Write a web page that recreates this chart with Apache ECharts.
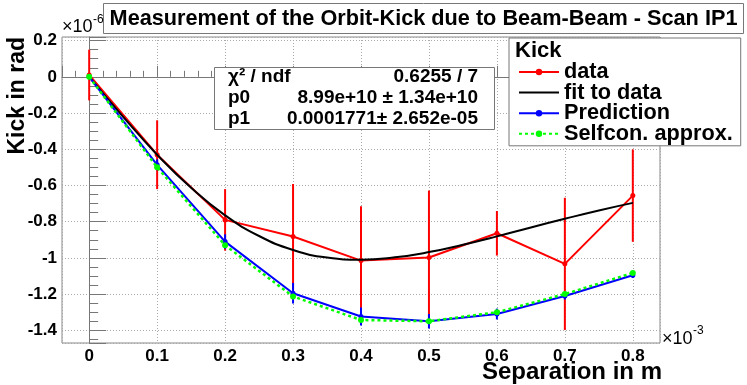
<!DOCTYPE html>
<html>
<head>
<meta charset="utf-8">
<script src="https://cdn.jsdelivr.net/npm/echarts@6/dist/echarts.min.js"></script>
<style>
  html, body { margin: 0; padding: 0; background: #fff; }
  #chart { width: 747px; height: 385px; }
</style>
</head>
<body>
<div id="chart"></div>
<script>
  // separation in 1e-3 m, kick in 1e-6 rad
  var separation = [0, 0.1, 0.2, 0.3, 0.4, 0.5, 0.6, 0.7, 0.8];
  var kickData = [0.01, -0.43, -0.79, -0.882, -1.015, -0.998, -0.864, -1.033, -0.656];
  var kickErr = [0.14, 0.19, 0.17, 0.29, 0.30, 0.37, 0.123, 0.365, 0.255];
  var predKick = [0, -0.486, -0.91, -1.195, -1.324, -1.35, -1.31, -1.21, -1.096];
  var predErr = [0.01, 0.03, 0.04, 0.057, 0.05, 0.04, 0.03, 0.02, 0.015];
  var selfconKick = [0, -0.50, -0.93, -1.213, -1.343, -1.35, -1.30, -1.20, -1.083];
  var fitX = [0, 0.05, 0.1, 0.15, 0.2, 0.25, 0.3, 0.35, 0.4, 0.45, 0.5, 0.55, 0.6, 0.65, 0.7, 0.75, 0.8];
  var fitKick = [0, -0.221, -0.43, -0.613, -0.765, -0.879, -0.956, -0.998, -1.01, -0.997, -0.968, -0.927, -0.881, -0.832, -0.784, -0.738, -0.696];

  var FONT = '"Liberation Sans", Arial, sans-serif';

  function pairs(xs, ys) {
    return xs.map(function (x, i) { return [x, ys[i]]; });
  }
  function triples(xs, ys, es) {
    return xs.map(function (x, i) { return [x, ys[i], es[i]]; });
  }
  function errBar(color) {
    return function (params, api) {
      var x = api.value(0), y = api.value(1), e = api.value(2);
      var p1 = api.coord([x, y + e]);
      var p2 = api.coord([x, y - e]);
      return {
        type: 'line',
        shape: { x1: p1[0], y1: p1[1], x2: p2[0], y2: p2[1] },
        style: { stroke: color, lineWidth: 2 }
      };
    };
  }
  function txt(x, y, s, font, align, extra) {
    var el = {
      type: 'text', x: x, y: y, z: 100,
      style: { text: s, font: font, fill: '#000', align: align, textAlign: align, verticalAlign: 'middle', textVerticalAlign: 'middle' }
    };
    if (extra) Object.assign(el, extra);
    return el;
  }

  var myChart = echarts.init(document.getElementById('chart'));
  var option = {
    backgroundColor: '#fff',
    animation: false,
    grid: {
      left: 62, right: 87, top: 37, bottom: 42,
      show: true, borderColor: '#888', borderWidth: 1, backgroundColor: '#fff'
    },
    legend: {
      orient: 'vertical',
      left: 509, top: 38,
      padding: [23, 8, 1, 9],
      itemWidth: 40, itemHeight: 8, itemGap: -1.4,
      backgroundColor: '#fff', borderColor: '#777', borderWidth: 1, borderRadius: 0,
      textStyle: { fontFamily: FONT, fontWeight: 'bold', fontSize: 21.7, lineHeight: 20, color: '#000' },
      data: [
        'data',
        { name: 'fit to data', itemStyle: { opacity: 0 } },
        'Prediction',
        'Selfcon. approx.'
      ]
    },
    xAxis: {
      type: 'value', min: -0.04, max: 0.84, splitNumber: 9,
      axisLine: { lineStyle: { color: '#777', width: 1 } },
      axisTick: { inside: true, length: 11, lineStyle: { color: '#777' } },
      minorTick: { show: true, splitNumber: 5, length: 6, lineStyle: { color: '#777' } },
      splitLine: { show: true, lineStyle: { color: '#aaa', type: [1, 2] } },
      axisLabel: {
        showMinLabel: false, showMaxLabel: false, margin: 5,
        fontFamily: FONT, fontWeight: 'bold', fontSize: 17, color: '#000'
      }
    },
    yAxis: {
      type: 'value', min: -1.47, max: 0.22, splitNumber: 8,
      axisLine: { show: true, lineStyle: { color: '#777', width: 1 } },
      axisTick: { show: true, inside: true, length: 17, lineStyle: { color: '#777' } },
      minorTick: { show: true, splitNumber: 4, length: 9, lineStyle: { color: '#777' } },
      splitLine: { show: true, lineStyle: { color: '#aaa', type: [1, 2] } },
      axisLabel: {
        showMinLabel: false, showMaxLabel: false, margin: 5,
        fontFamily: FONT, fontWeight: 'bold', fontSize: 17, color: '#000'
      }
    },
    graphic: [
      { type: 'rect', z: 99, shape: { x: 103.5, y: 3.5, width: 640, height: 30 },
        style: { fill: '#fff', stroke: '#777', lineWidth: 1 } },
      txt(423.5, 19, 'Measurement of the Orbit-Kick due to Beam-Beam - Scan IP1', 'bold 21.7px ' + FONT, 'center'),
      { type: 'rect', z: 99, shape: { x: 214.5, y: 67.5, width: 280, height: 62 },
        style: { fill: '#fff', stroke: '#777', lineWidth: 1 } },
      txt(228, 77, 'χ² / ndf', 'bold 19px ' + FONT, 'left'),
      txt(228, 98, 'p0', 'bold 19px ' + FONT, 'left'),
      txt(228, 119, 'p1', 'bold 19px ' + FONT, 'left'),
      txt(478, 77, '0.6255 / 7', 'bold 19px ' + FONT, 'right'),
      txt(478, 98, '8.99e+10 ± 1.34e+10', 'bold 19px ' + FONT, 'right'),
      txt(478, 119, '0.0001771± 2.652e-05', 'bold 19px ' + FONT, 'right'),
      txt(515, 51, 'Kick', 'bold 22px ' + FONT, 'left'),
      txt(62, 27, '×10', '18px ' + FONT, 'left'),
      txt(93, 20, '-6', '12px ' + FONT, 'left'),
      txt(662, 339, '×10', '18px ' + FONT, 'left'),
      txt(693, 331, '-3', '12px ' + FONT, 'left'),
      txt(662, 372, 'Separation in m', 'bold 24px ' + FONT, 'right'),
      txt(18, 37, 'Kick in rad', 'bold 23px ' + FONT, 'right', { rotation: Math.PI / 2 })
    ],
    series: [
      {
        name: 'data err', type: 'custom', renderItem: errBar('#ff0000'),
        encode: { x: 0, y: 1 }, data: triples(separation, kickData, kickErr), z: 2
      },
      {
        name: 'data', type: 'line', data: pairs(separation, kickData),
        symbol: 'circle', symbolSize: 5, z: 3,
        itemStyle: { color: '#ff0000' }, lineStyle: { color: '#ff0000', width: 2 }
      },
      {
        name: 'fit to data', type: 'line', data: pairs(fitX, fitKick),
        symbol: 'none', smooth: true, z: 4,
        itemStyle: { color: '#000' }, lineStyle: { color: '#000', width: 2 }
      },
      {
        name: 'pred err', type: 'custom', renderItem: errBar('#0000ff'),
        encode: { x: 0, y: 1 }, data: triples(separation, predKick, predErr), z: 5
      },
      {
        name: 'Prediction', type: 'line', data: pairs(separation, predKick),
        symbol: 'circle', symbolSize: 5, z: 6,
        itemStyle: { color: '#0000ff' }, lineStyle: { color: '#0000ff', width: 2 }
      },
      {
        name: 'Selfcon. approx.', type: 'line', data: pairs(separation, selfconKick),
        symbol: 'circle', symbolSize: 6, z: 7,
        itemStyle: { color: '#00ff00' }, lineStyle: { color: '#00ff00', width: 2.5, type: [3, 3] }
      }
    ]
  };
  myChart.setOption(option);
</script>
</body>
</html>
